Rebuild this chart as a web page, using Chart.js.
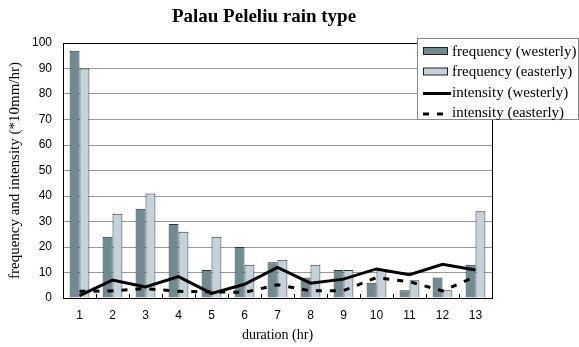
<!DOCTYPE html>
<html>
<head>
<meta charset="utf-8">
<script src="https://cdn.jsdelivr.net/npm/chart.js@4/dist/chart.umd.min.js"></script>
<style>
html,body{margin:0;padding:0;background:#fff;}
#wrap{position:relative;width:579px;height:347px;}
</style>
</head>
<body>
<div id="wrap"><canvas id="c" width="579" height="347"></canvas></div>
<script>
const categories = ['1','2','3','4','5','6','7','8','9','10','11','12','13'];
const freqWesterly = [97, 24, 35, 29, 11, 20, 14, 8, 11, 6, 3, 8, 13];
const freqEasterly = [90, 33, 41, 26, 24, 13, 15, 13, 11, 11, 7, 3, 34];
const intWesterly  = [0.9, 7, 4.3, 8.4, 1.8, 5.4, 12, 5.8, 7.4, 11.4, 9.1, 13.2, 11];
const intEasterly  = [2.6, 2.8, 3.7, 2.6, 2.4, 2.2, 5.2, 2.8, 2.9, 8, 6.4, 2.8, 8.4];
const yTicks = [0,10,20,30,40,50,60,70,80,90,100];

const SERIF = '"Liberation Serif", "DejaVu Serif", serif';
const SANS = '"Liberation Sans", Arial, sans-serif';
const TITLE = 'Palau Peleliu rain type';

const framePlugin = {
  id: 'frame',
  afterDatasetsDraw(chart) {
    const {ctx, chartArea: a} = chart;
    const xs = chart.scales.x;
    ctx.save();
    ctx.strokeStyle = '#000';
    ctx.lineWidth = 1;
    ctx.strokeRect(Math.round(a.left)+0.5, Math.round(a.top)+0.5, Math.round(a.right-a.left), Math.round(a.bottom-a.top));
    // inner category boundary tick marks
    const n = categories.length;
    const w = (a.right - a.left) / n;
    ctx.beginPath();
    for (let i = 1; i < n; i++) {
      const x = Math.round(xs.getPixelForValue(i) - w / 2) + 0.5;
      ctx.moveTo(x, a.bottom);
      ctx.lineTo(x, a.bottom - 4);
    }
    ctx.stroke();
    ctx.restore();
  },
  afterDraw(chart) {
    const {ctx} = chart;
    ctx.save();
    // title
    ctx.fillStyle = '#000';
    ctx.font = 'bold 19px ' + SERIF;
    ctx.textAlign = 'center';
    ctx.textBaseline = 'middle';
    ctx.fillText(TITLE, 264, 17);
    // legend
    const bx = 417.5, by = 38.5, bw = 161, bh = 81;
    ctx.fillStyle = '#fff';
    ctx.fillRect(bx, by, bw, bh);
    ctx.strokeStyle = '#888';
    ctx.lineWidth = 1;
    ctx.strokeRect(bx, by, bw, bh);
    const ds = chart.data.datasets;
    ctx.font = '15px ' + SERIF;
    ctx.textAlign = 'left';
    ctx.textBaseline = 'middle';
    for (let i = 0; i < ds.length; i++) {
      const y = 51 + i * 20.5;
      const d = ds[i];
      if (d.type === 'line') {
        ctx.strokeStyle = d.borderColor;
        ctx.lineWidth = 3;
        ctx.setLineDash(d.borderDash || []);
        ctx.beginPath();
        ctx.moveTo(423, y + 1.5);
        ctx.lineTo(451, y + 1.5);
        ctx.stroke();
        ctx.setLineDash([]);
      } else {
        ctx.fillStyle = d.backgroundColor;
        ctx.fillRect(423.5, y - 3.5, 24, 7);
        ctx.strokeStyle = '#222';
        ctx.lineWidth = 1;
        ctx.strokeRect(423.5, y - 3.5, 24, 7);
      }
      ctx.fillStyle = '#000';
      ctx.fillText(d.label, 452, y + 1);
    }
    ctx.restore();
  }
};

new Chart(document.getElementById('c'), {
  data: {
    labels: categories,
    datasets: [
      {type:'bar', label:'frequency (westerly)', data: freqWesterly, backgroundColor:'#6e8b92', borderColor:'#333', borderWidth:1, order:2},
      {type:'bar', label:'frequency (easterly)', data: freqEasterly, backgroundColor:'#c3d3dc', borderColor:'#333', borderWidth:1, order:2},
      {type:'line', label:'intensity (westerly)', data: intWesterly, borderColor:'#000', borderWidth:3, pointRadius:0, tension:0, fill:false, order:1},
      {type:'line', label:'intensity (easterly)', data: intEasterly, borderColor:'#000', borderWidth:3, borderDash:[6,8], pointRadius:0, tension:0, fill:false, order:1}
    ]
  },
  options: {
    responsive: false,
    animation: false,
    devicePixelRatio: 1,
    layout: {padding: {left: 0, right: 87, top: 43, bottom: 0}},
    datasets: {bar: {categoryPercentage: 0.6, barPercentage: 1.0}},
    plugins: {
      legend: {display: false},
      title: {display: false},
      tooltip: {enabled: false}
    },
    scales: {
      x: {
        type: 'category',
        offset: true,
        grid: {display: false, drawTicks: false},
        border: {display: true, color: '#000'},
        ticks: {color:'#000', font:{family: SANS, size: 12}, padding: 10, maxRotation: 0},
        title: {display: true, text: 'duration (hr)', color:'#000', font:{family: SERIF, size: 14}, padding:{top:0, bottom:3}},
        afterFit(s) { s.height = 49; }
      },
      y: {
        min: 0, max: 100,
        afterBuildTicks(s) { s.ticks = yTicks.map(v => ({value: v})); },
        grid: {color: '#999', lineWidth: 1, drawTicks: false},
        border: {display: true, color: '#000'},
        ticks: {color:'#000', font:{family: SANS, size: 12}, padding: 11},
        title: {display: true, text: 'frequency and intensity (*10mm/hr)', color:'#000', font:{family: SERIF, size: 15}, padding:{top:6, bottom:0}},
        afterFit(s) { s.width = 63; }
      }
    }
  },
  plugins: [framePlugin]
});
</script>
</body>
</html>
